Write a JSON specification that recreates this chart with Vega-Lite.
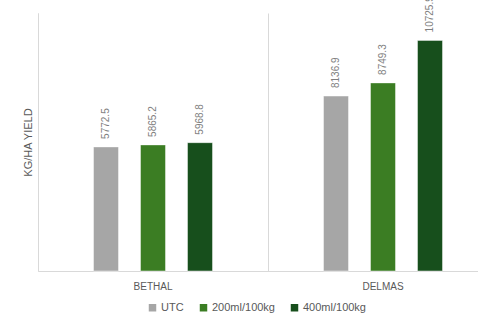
{
  "$schema": "https://vega.github.io/schema/vega-lite/v6.json",
  "autosize": "none",
  "width": 460,
  "height": 258,
  "padding": {"left": 38, "top": 13, "right": 0, "bottom": 43},
  "background": "white",
  "config": {
    "view": {"stroke": null},
    "font": "Liberation Sans"
  },
  "data": {
    "values": [
      {"site": "BETHAL", "treatment": "UTC", "yield": 5772.5},
      {"site": "BETHAL", "treatment": "200ml/100kg", "yield": 5865.2},
      {"site": "BETHAL", "treatment": "400ml/100kg", "yield": 5968.8},
      {"site": "DELMAS", "treatment": "UTC", "yield": 8136.9},
      {"site": "DELMAS", "treatment": "200ml/100kg", "yield": 8749.3},
      {"site": "DELMAS", "treatment": "400ml/100kg", "yield": 10725.9}
    ]
  },
  "encoding": {
    "x": {
      "field": "site",
      "type": "nominal",
      "sort": ["BETHAL", "DELMAS"],
      "scale": {"paddingInner": 0, "paddingOuter": 0},
      "axis": {
        "title": null,
        "labelAngle": 0,
        "labelFontSize": 10,
        "labelColor": "#595959",
        "labelPadding": 10,
        "domainColor": "#d9d9d9",
        "ticks": false,
        "grid": true,
        "gridColor": "#d9d9d9",
        "bandPosition": 0
      }
    },
    "xOffset": {
      "field": "treatment",
      "type": "nominal",
      "sort": ["UTC", "200ml/100kg", "400ml/100kg"],
      "scale": {"paddingInner": 0.106, "paddingOuter": 1}
    },
    "y": {
      "field": "yield",
      "type": "quantitative",
      "scale": {"domain": [0, 12000], "nice": false},
      "axis": {
        "title": "KG/HA YIELD",
        "titleFontSize": 11,
        "titleFontWeight": "normal",
        "titleColor": "#595959",
        "titlePadding": 5,
        "labels": false,
        "ticks": false,
        "grid": false,
        "domainColor": "#d9d9d9"
      }
    }
  },
  "layer": [
    {
      "mark": {"type": "bar", "width": 25, "stroke": "white", "strokeWidth": 0.75, "strokeOpacity": 0.6},
      "encoding": {
        "color": {
          "field": "treatment",
          "type": "nominal",
          "sort": ["UTC", "200ml/100kg", "400ml/100kg"],
          "scale": {
            "domain": ["UTC", "200ml/100kg", "400ml/100kg"],
            "range": ["#a6a6a6", "#3b7d23", "#174f1c"]
          },
          "legend": {
            "title": null,
            "orient": "none",
            "direction": "horizontal",
            "legendX": 109,
            "legendY": 289,
            "symbolType": "square",
            "symbolSize": 56,
            "symbolStrokeWidth": 0,
            "labelFontSize": 11,
            "labelColor": "#595959",
            "labelOffset": 3,
            "columnPadding": 14
          }
        }
      }
    },
    {
      "mark": {
        "type": "text",
        "angle": 270,
        "align": "left",
        "baseline": "middle",
        "dx": 8,
        "fontSize": 10,
        "color": "#7f7f7f"
      },
      "encoding": {
        "text": {"field": "yield", "type": "quantitative", "format": ".1f"}
      }
    }
  ]
}
